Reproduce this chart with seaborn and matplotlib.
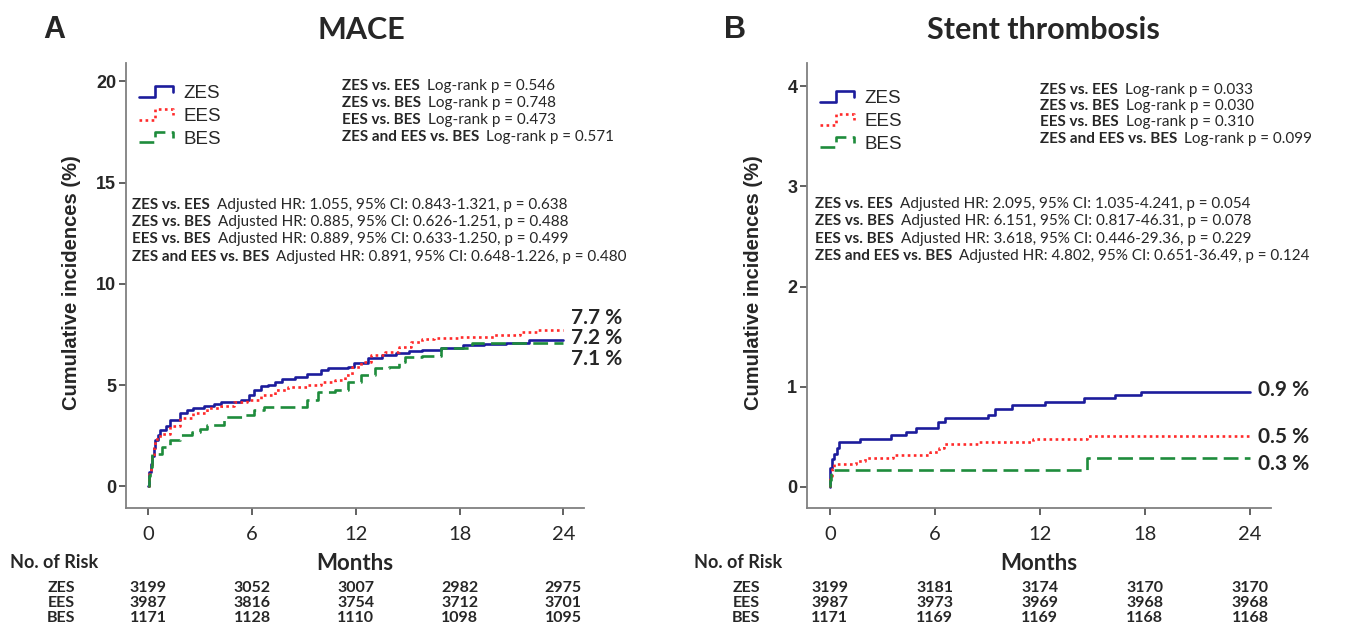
import numpy as np
import pandas as pd
import matplotlib
matplotlib.use("Agg")
import matplotlib.pyplot as plt
import matplotlib.transforms as mtransforms
from matplotlib.legend_handler import HandlerLine2D
from matplotlib.lines import Line2D
import seaborn as sns

# ---- data ----
stents = ["ZES", "EES", "BES"]
months_ticks = [0, 6, 12, 18, 24]

# Panel A: MACE (cumulative incidence %, step points)
mace_zes_t = [0, 0.05, 0.12, 0.2, 0.3, 0.4, 0.55, 0.68, 1.0, 1.26, 1.84, 2.23, 2.6, 3.2, 3.8, 4.17, 5.34,
              5.8, 6.1, 6.5, 6.9, 7.3, 7.7, 8.45, 9.2, 10.0, 10.4, 11.55, 11.9, 12.7, 13.5, 14.3, 15.05,
              15.8, 16.9, 18.2, 19.4, 20.7, 22.0, 24.0]
mace_zes_v = [0, 0.7, 1.1, 1.5, 1.9, 2.3, 2.55, 2.77, 3.0, 3.27, 3.6, 3.76, 3.85, 3.96, 4.06, 4.17, 4.26,
              4.5, 4.75, 4.95, 5.0, 5.17, 5.28, 5.38, 5.54, 5.74, 5.86, 5.9, 6.07, 6.32, 6.49, 6.6, 6.7,
              6.73, 6.85, 7.0, 7.05, 7.1, 7.2, 7.2]
mace_ees_t = [0, 0.05, 0.12, 0.2, 0.3, 0.4, 0.68, 1.26, 1.84, 2.6, 3.4, 4.17, 4.95, 5.7, 6.5, 7.3, 8.06,
              9.2, 10.0, 10.8, 11.4, 11.75, 12.3, 12.9, 13.7, 14.5, 15.2, 15.8, 16.5, 18.0, 20.0, 21.5,
              22.5, 24.0]
mace_ees_v = [0, 0.6, 1.0, 1.45, 1.9, 2.36, 2.6, 3.0, 3.35, 3.6, 3.85, 3.96, 4.17, 4.26, 4.5, 4.75, 4.88,
              5.0, 5.17, 5.25, 5.5, 5.9, 6.15, 6.49, 6.65, 6.9, 7.15, 7.26, 7.3, 7.35, 7.45, 7.6, 7.7, 7.7]
mace_bes_t = [0, 0.05, 0.1, 0.2, 0.5, 0.78, 1.26, 1.84, 2.5, 3.0, 3.4, 4.37, 5.5, 6.1, 6.7, 9.2, 9.8,
              10.8, 11.55, 12.3, 13.1, 13.9, 14.5, 14.85, 15.8, 16.9, 18.7, 24.0]
mace_bes_v = [0, 0.5, 0.96, 1.58, 1.6, 1.95, 2.28, 2.52, 2.69, 2.85, 3.02, 3.43, 3.5, 3.76, 3.93, 4.26,
              4.67, 4.75, 5.17, 5.5, 5.83, 5.9, 6.15, 6.37, 6.45, 6.85, 7.1, 7.1]

# Panel B: stent thrombosis
st_zes_t = [0, 0.02, 0.14, 0.23, 0.43, 0.52, 1.74, 3.5, 4.34, 4.92, 6.2, 6.6, 9.05, 9.44, 10.4, 12.3,
            14.53, 16.3, 17.8, 24.0]
st_zes_v = [0, 0.19, 0.28, 0.33, 0.39, 0.45, 0.48, 0.52, 0.55, 0.59, 0.65, 0.69, 0.72, 0.78, 0.82, 0.85,
            0.89, 0.92, 0.95, 0.95]
st_ees_t = [0, 0.04, 0.14, 0.23, 1.5, 2.0, 3.6, 5.75, 6.24, 6.5, 8.5, 11.6, 14.7, 24.0]
st_ees_v = [0, 0.11, 0.175, 0.225, 0.26, 0.29, 0.32, 0.35, 0.39, 0.43, 0.45, 0.48, 0.51, 0.51]
st_bes_t = [0, 0.02, 0.08, 14.7, 24.0]
st_bes_v = [0, 0.07, 0.17, 0.29, 0.29]

mace_end_labels = ["7.7 %", "7.2 %", "7.1 %"]
st_end_labels = ["0.9 %", "0.5 %", "0.3 %"]

mace_logrank = [("ZES vs. EES", "Log-rank p = 0.546"),
                ("ZES vs. BES", "Log-rank p = 0.748"),
                ("EES vs. BES", "Log-rank p = 0.473"),
                ("ZES and EES vs. BES", "Log-rank p = 0.571")]
mace_hr = [("ZES vs. EES", "Adjusted HR: 1.055, 95% CI: 0.843-1.321, p = 0.638"),
           ("ZES vs. BES", "Adjusted HR: 0.885, 95% CI: 0.626-1.251, p = 0.488"),
           ("EES vs. BES", "Adjusted HR: 0.889, 95% CI: 0.633-1.250, p = 0.499"),
           ("ZES and EES vs. BES", "Adjusted HR: 0.891, 95% CI: 0.648-1.226, p = 0.480")]
st_logrank = [("ZES vs. EES", "Log-rank p = 0.033"),
              ("ZES vs. BES", "Log-rank p = 0.030"),
              ("EES vs. BES", "Log-rank p = 0.310"),
              ("ZES and EES vs. BES", "Log-rank p = 0.099")]
st_hr = [("ZES vs. EES", "Adjusted HR: 2.095, 95% CI: 1.035-4.241, p = 0.054"),
         ("ZES vs. BES", "Adjusted HR: 6.151, 95% CI: 0.817-46.31, p = 0.078"),
         ("EES vs. BES", "Adjusted HR: 3.618, 95% CI: 0.446-29.36, p = 0.229"),
         ("ZES and EES vs. BES", "Adjusted HR: 4.802, 95% CI: 0.651-36.49, p = 0.124")]

mace_risk_zes = [3199, 3052, 3007, 2982, 2975]
mace_risk_ees = [3987, 3816, 3754, 3712, 3701]
mace_risk_bes = [1171, 1128, 1110, 1098, 1095]
st_risk_zes = [3199, 3181, 3174, 3170, 3170]
st_risk_ees = [3987, 3973, 3969, 3968, 3968]
st_risk_bes = [1171, 1169, 1169, 1168, 1168]

# ---- style ----
sns.set_style("ticks")
plt.rcParams["font.family"] = ["Liberation Sans", "DejaVu Sans"]
CAL = ["Lato", "DejaVu Sans"]
colors = {"ZES": "#1c1c9c", "EES": "#ff2a2a", "BES": "#1e8c3c"}
dashes = {"ZES": "", "EES": (1, 1.3), "BES": (5.6, 2.4)}

W, H = 1370, 634
fig = plt.figure(figsize=(W / 100, H / 100), dpi=100)


def px(x, y):
    return x / W, 1 - y / H


class StepHandler(HandlerLine2D):
    def create_artists(self, legend, orig_handle, xdescent, ydescent, width, height, fontsize, trans):
        xs = np.array([0, 0.45, 0.45, 0.95, 0.95]) * width - xdescent
        ys = np.array([0.1, 0.1, 0.9, 0.9, 0.45]) * height - ydescent
        ln = Line2D(xs, ys)
        self.update_prop(ln, orig_handle, legend)
        ln.set_transform(trans)
        return [ln]


def two_part(ax, x, y, bold, rest, size=11):
    t = fig.text(*px(x, y), bold, fontsize=size, fontweight="bold", family=CAL, va="bottom")
    ax.annotate(rest, xy=(1, 0), xycoords=t, xytext=(5, 0), textcoords="offset points",
                va="bottom", ha="left", fontsize=size, family=CAL)


def panel(left, width, letter, title, title_x, series, ylim, yticks, end_labels, end_x, end_ys,
          logrank, lr_x, lr_ys, hr, hr_x, hr_ys, leg_y, risk, risk_lbl_x, risk_title_x):
    ax = fig.add_axes([left / W, 1 - 508 / H, width / W, 445 / H])
    frames = []
    for name, (t, v) in zip(stents, series):
        frames.append(pd.DataFrame({"month": t, "inc": v, "stent": name}))
    df = pd.concat(frames, ignore_index=True)
    sns.lineplot(data=df, x="month", y="inc", hue="stent", style="stent", palette=colors,
                 dashes=dashes, estimator=None, sort=False, drawstyle="steps-post",
                 linewidth=1.9, legend=False, ax=ax)
    ax.set_xlim(-1.3, 25.2)
    ax.set_ylim(*ylim)
    ax.set_xticks(months_ticks, [str(m) for m in months_ticks], fontsize=14.5, family=CAL)
    ax.set_yticks(yticks, [str(y) for y in yticks], fontsize=13, fontweight="bold")
    ax.tick_params(axis="both", length=5, width=1.3, color="#555555")
    ax.tick_params(axis="x", pad=8)
    ax.tick_params(axis="y", pad=2)
    sns.despine(ax=ax)
    for s in ["left", "bottom"]:
        ax.spines[s].set_color("#808080")
        ax.spines[s].set_linewidth(1.3)
    ax.set_xlabel("Months", fontsize=16, fontweight="bold", family=CAL)
    ax.xaxis.set_label_coords(0.5, (508 - 563) / 445)
    ax.xaxis.label.set_va("center")
    ax.set_ylabel("Cumulative incidences (%)", fontsize=14.5, fontweight="bold")
    ax.yaxis.set_label_coords(-54 / width, (508 - 283) / 445)
    ax.yaxis.label.set_va("center")

    handles = [Line2D([], [], color=colors[s], linewidth=1.9,
                      linestyle="-" if s == "ZES" else (0, dashes[s])) for s in stents]
    ax.legend(handles, stents, handler_map={Line2D: StepHandler()}, loc="upper left",
              bbox_to_anchor=px(left + 13, leg_y - 11), bbox_transform=fig.transFigure,
              frameon=False, fontsize=13.5, handlelength=1.9, handletextpad=0.45,
              borderpad=0, borderaxespad=0, labelspacing=0.3)

    fig.text(*px(left - 72, 30), letter, fontsize=22, fontweight="bold", va="center", ha="center")
    fig.text(*px(title_x, 30), title, fontsize=22, fontweight="bold", family=CAL,
             va="center", ha="center")

    for (b, r), y in zip(logrank, lr_ys):
        two_part(ax, lr_x, y + 7, b, r)
    for (b, r), y in zip(hr, hr_ys):
        two_part(ax, hr_x, y + 7, b, r)
    for lab, y in zip(end_labels, end_ys):
        fig.text(*px(end_x, y), lab, fontsize=15, fontweight="bold", family=CAL,
                 va="center", ha="left")

    # number-at-risk table
    tr = mtransforms.blended_transform_factory(ax.transData, fig.transFigure)
    fig.text(*px(risk_title_x, 563), "No. of Risk", fontsize=13, fontweight="bold", family=CAL,
             va="center", ha="left")
    for name, row, y in zip(stents, risk, [588, 603, 618]):
        fig.text(*px(risk_lbl_x, y), name, fontsize=11.5, fontweight="bold", family=CAL,
                 va="center", ha="center")
        for m, n in zip(months_ticks, row):
            ax.text(m, 1 - y / H, str(n), transform=tr, fontsize=11.5, fontweight="bold",
                    family=CAL, va="center", ha="center", clip_on=False)
    return ax


panel(126, 458, "A", "MACE", 361,
      [(mace_zes_t, mace_zes_v), (mace_ees_t, mace_ees_v), (mace_bes_t, mace_bes_v)],
      (-1.07, 20.9), [0, 5, 10, 15, 20], mace_end_labels, 571, [318, 338, 359],
      mace_logrank, 342, [86, 103, 120, 137], mace_hr, 132, [205, 222, 239, 257],
      96, [mace_risk_zes, mace_risk_ees, mace_risk_bes], 61, 10)

panel(807, 464, "B", "Stent thrombosis", 1043,
      [(st_zes_t, st_zes_v), (st_ees_t, st_ees_v), (st_bes_t, st_bes_v)],
      (-0.21, 4.23), [0, 1, 2, 3, 4], st_end_labels, 1258, [390, 437, 464],
      st_logrank, 1040, [90, 106, 122, 139], st_hr, 815, [204, 221, 239, 256],
      101, [st_risk_zes, st_risk_ees, st_risk_bes], 746, 694)

fig.savefig("out.png", dpi=100, facecolor="white")
